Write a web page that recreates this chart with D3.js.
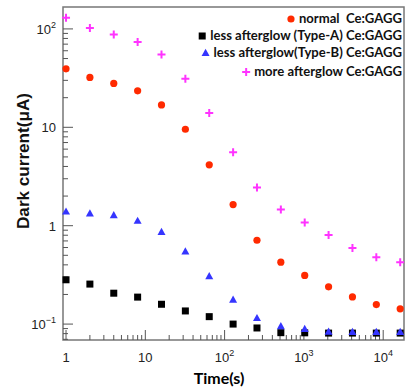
<!DOCTYPE html>
<html><head><meta charset="utf-8">
<script src="https://cdn.jsdelivr.net/npm/d3@7"></script>
<style>body{margin:0;background:#fff}svg{display:block}</style>
</head><body>
<svg id="c" width="405" height="387"></svg>
<script>
const times = [1,2,4,8,16,32,64,128,256,512,1024,2048,4096,8192,16384];
const normal = [39.3,32.1,27.9,23.5,16.9,9.55,4.16,1.64,0.711,0.426,0.312,0.239,0.189,0.158,0.143];
const typeA = [0.282,0.255,0.206,0.188,0.159,0.136,0.119,0.100,0.0913,0.0818,0.0815,0.081,0.081,0.081,0.081];
const typeB = [1.39,1.33,1.28,1.12,0.863,0.546,0.307,0.177,0.115,0.095,0.0892,0.0837,0.083,0.083,0.083];
const more = [130,102,87.5,73.8,55,31.1,14.0,5.58,2.45,1.46,1.08,0.806,0.595,0.479,0.426];
const seriesNames = ["normal  Ce:GAGG","less afterglow (Type-A) Ce:GAGG","less afterglow(Type-B) Ce:GAGG","more afterglow Ce:GAGG"];
const xTickValues = [1,10,100,1000,10000];
const yTickValues = [0.1,1,10,100];

const svg = d3.select("#c");
const L=63,R=404,T=7,B=340;
const x = d3.scaleLog().domain([0.916,18300]).range([L,R]);
const y = d3.scaleLog().domain([0.0689,167]).range([B,T]);

const series = [
  {name:seriesNames[0], vals:normal, shape:"circle", color:"#ff2a00"},
  {name:seriesNames[1], vals:typeA, shape:"square", color:"#000000"},
  {name:seriesNames[2], vals:typeB, shape:"triangle", color:"#3535ff"},
  {name:seriesNames[3], vals:more, shape:"plus", color:"#ff33ff"}
];

function marker(g, shape, color){
  if(shape==="circle") g.append("circle").attr("r",3.6).attr("fill",color);
  else if(shape==="square") g.append("rect").attr("x",-3.5).attr("y",-3.5).attr("width",7).attr("height",7).attr("fill",color);
  else if(shape==="triangle") g.append("path").attr("d","M0,-4.2L4,3L-4,3Z").attr("fill",color);
  else g.append("path").attr("d","M-4,0H4M0,-4V4").attr("stroke",color).attr("stroke-width",2).attr("fill","none");
}

// frame
svg.append("rect").attr("x",L).attr("y",T).attr("width",R-L).attr("height",B-T)
  .attr("fill","none").attr("stroke","#777").attr("stroke-width",1.5);

// ticks (inside the frame)
const xAxis = d3.axisBottom(x).tickValues(xTickValues).tickSize(0).tickFormat("");
svg.append("g").attr("transform",`translate(0,${B})`).call(xAxis).select(".domain").remove();
const tg = svg.append("g").attr("stroke","#555").attr("stroke-width",1);
for(let d=0; d<=4; d++){
  for(let k=1;k<=9;k++){
    const v=k*Math.pow(10,d);
    if(v<x.domain()[0]||v>x.domain()[1]) continue;
    const len = k===1?10:5;
    tg.append("line").attr("x1",x(v)).attr("x2",x(v)).attr("y1",B).attr("y2",B-len);
  }
}
for(let d=-2; d<=2; d++){
  for(let k=1;k<=9;k++){
    const v=k*Math.pow(10,d);
    if(v<y.domain()[0]||v>y.domain()[1]) continue;
    const len = k===1?10:5;
    tg.append("line").attr("y1",y(v)).attr("y2",y(v)).attr("x1",L).attr("x2",L+len);
  }
}

const tf = "Liberation Sans, Arial, sans-serif";
function labelExp(sel, v){
  const e = Math.round(Math.log10(v));
  if(e===0) sel.text("1");
  else if(e===1) sel.text("10");
  else { sel.append("tspan").text("10"); sel.append("tspan").attr("dy",-6).attr("font-size",9).text(String(e).replace("-","\u2212")); }
}
xTickValues.forEach(v=>{
  const t = svg.append("text").attr("x",x(v)).attr("y",362).attr("text-anchor","middle")
    .attr("font-family",tf).attr("font-size",13).attr("fill","#222");
  labelExp(t,v);
});
yTickValues.forEach(v=>{
  const t = svg.append("text").attr("x",56).attr("y",y(v)+5).attr("text-anchor","end")
    .attr("font-family",tf).attr("font-size",13).attr("fill","#222");
  labelExp(t,v);
});

// axis titles
const lf = "Lato, Open Sans, sans-serif";
svg.append("text").attr("x",219).attr("y",384).attr("text-anchor","middle")
  .attr("font-family",lf).attr("font-weight","bold").attr("font-size",16).text("Time(s)");
const yl = svg.append("text").attr("transform","translate(29,161) rotate(-90)").attr("text-anchor","middle")
  .attr("font-family",tf).attr("font-weight","bold").attr("font-size",15).attr("fill","#111").text("Dark current(\u03bcA)");
const ylw = yl.node().getComputedTextLength();
yl.attr("font-size", 15*136/ylw);

// data
series.forEach(s=>{
  const g = svg.append("g");
  s.vals.forEach((v,i)=>{
    const m = g.append("g").attr("transform",`translate(${x(times[i])},${y(v)})`);
    marker(m,s.shape,s.color);
  });
});

// legend
const ly=[19,36,53,72];
const texts = series.map((s,i)=> svg.append("text").attr("x",402).attr("y",ly[i]+4).attr("text-anchor","end")
    .attr("font-family",lf).attr("font-weight","bold").attr("font-size",12.5).attr("fill","#111")
    .style("white-space","pre").text(s.name));
const w1 = texts[1].node().getComputedTextLength();
const fs = 12.5*192/w1;
series.forEach((s,i)=>{
  texts[i].attr("font-size",fs);
  const bb = texts[i].node().getBBox();
  const m = svg.append("g").attr("transform",`translate(${bb.x-8},${ly[i]})`);
  marker(m,s.shape,s.color);
});
</script>
</body></html>
